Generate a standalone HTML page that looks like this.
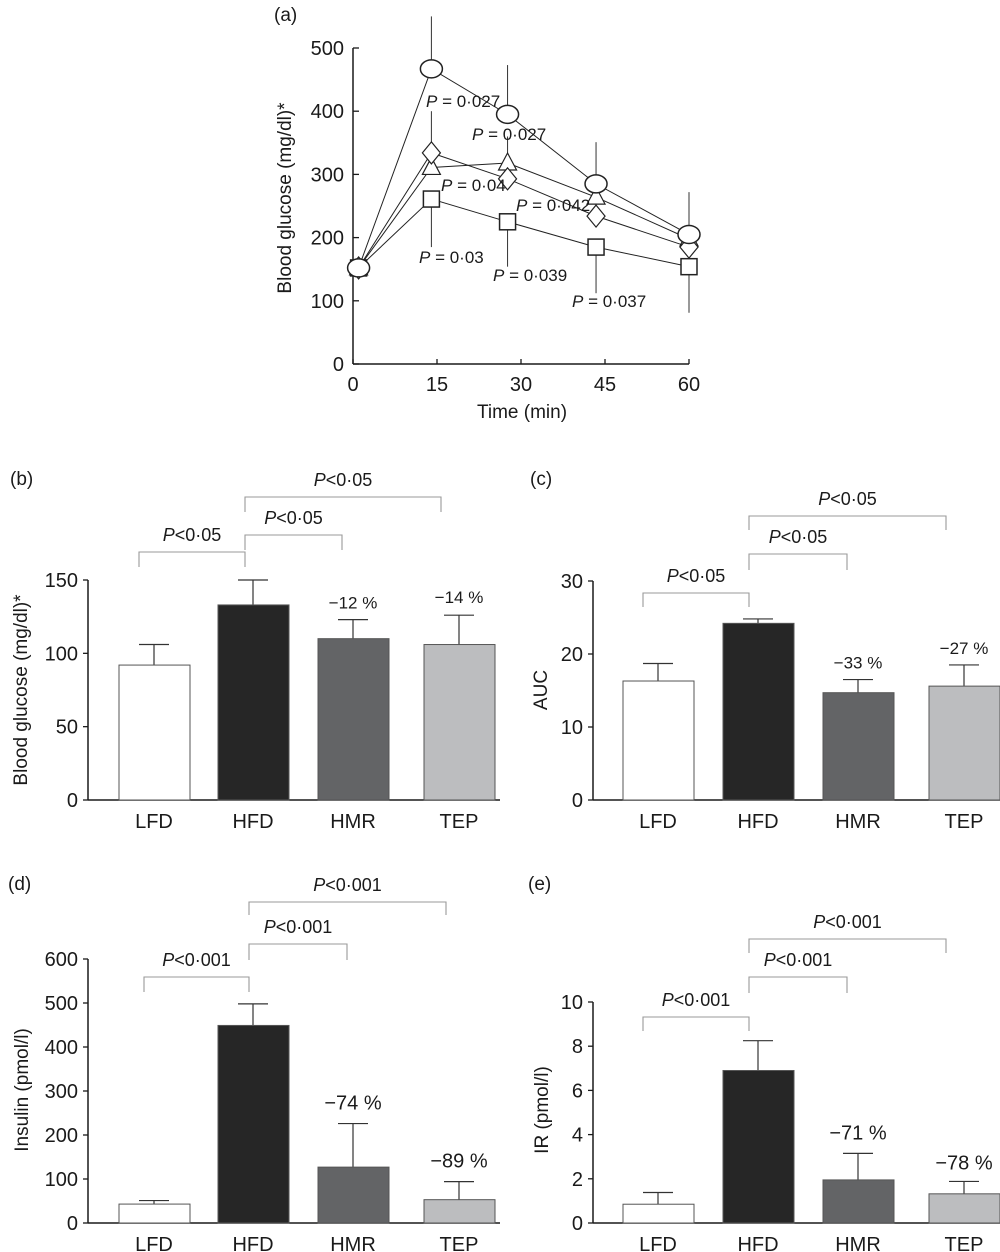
<!DOCTYPE html>
<html><head><meta charset="utf-8">
<style>
html,body{margin:0;padding:0;background:#fff;}
svg{display:block;font-family:"Liberation Sans",sans-serif;}
text{fill:#1a1a1a;}
</style></head>
<body>
<svg id="fig" width="1000" height="1252" viewBox="0 0 1000 1252" xmlns="http://www.w3.org/2000/svg"></svg>
<script>
// ---- Panel (a) data ----
const timeCats = [1, 14, 27.6, 43.4, 60];
const circleVals = [152, 467, 395, 285, 205];
const circleErrHi = [152, 550, 473, 351, 272];
const triVals = [152, 311, 318, 264, 198];
const diamondVals = [152, 334, 293, 234, 185];
const squareVals = [152, 261, 225, 185, 154];
const squareErrLo = [152, 185, 154, 112, 81];
const diamondErrHi = [152, 400, 360, 300, 230];
const aXTicks = [0, 15, 30, 45, 60];
const aYTicks = [0, 100, 200, 300, 400, 500];
const aPLabels = ["P = 0·027","P = 0·027","P = 0·04","P = 0·042","P = 0·03","P = 0·039","P = 0·037"];

// ---- Bar panels data ----
const groups = ["LFD","HFD","HMR","TEP"];
const bVals = [92, 133, 110, 106];
const bErr = [106, 150, 123, 126];
const bTicks = [0, 50, 100, 150];
const bPct = ["", "", "−12 %", "−14 %"];
const cVals = [16.3, 24.2, 14.7, 15.6];
const cErr = [18.7, 24.8, 16.5, 18.5];
const cTicks = [0, 10, 20, 30];
const cPct = ["", "", "−33 %", "−27 %"];
const dVals = [43, 449, 127, 53];
const dErr = [51, 498, 226, 94];
const dTicks = [0, 100, 200, 300, 400, 500, 600];
const dPct = ["", "", "−74 %", "−89 %"];
const eVals = [0.85, 6.9, 1.95, 1.32];
const eErr = [1.38, 8.25, 3.15, 1.88];
const eTicks = [0, 2, 4, 6, 8, 10];
const ePct = ["", "", "−71 %", "−78 %"];

const NS = "http://www.w3.org/2000/svg";
const svg = document.getElementById('fig');
function mk(tag, attrs, parent, txt){
  const e = document.createElementNS(NS, tag);
  for (const k in attrs) e.setAttribute(k, attrs[k]);
  if (txt !== undefined) e.textContent = txt;
  (parent || svg).appendChild(e);
  return e;
}
function line(x1,y1,x2,y2,stroke,w,p){return mk('line',{x1,y1,x2,y2,stroke:stroke||'#1a1a1a','stroke-width':w||1},p);}
function ptext(x,y,s,size,anchor,p){
  const t = mk('text',{x,y,'font-size':size,'text-anchor':anchor||'middle'},p);
  const a = document.createElementNS(NS,'tspan'); a.setAttribute('font-style','italic'); a.textContent = 'P'; t.appendChild(a);
  const b = document.createElementNS(NS,'tspan'); b.textContent = s.slice(1); t.appendChild(b);
  return t;
}

// ---------- Panel (a) ----------
(function(){
  const g = mk('g',{});
  
  
  const x0=353, x1=689, y0=364, y1=48;
  const X = t => x0 + (t/60)*(x1-x0);
  const Y = v => y0 - (v/500)*(y0-y1);
  mk('text',{x:274,y:21,'font-size':19},g,'(a)');
  const ax = mk('g',{},g);  
  line(x0,y0,x1,y0,'#1a1a1a',1.5,ax);
  aXTicks.forEach(t=>{ line(X(t),y0,X(t),y0-5,'#1a1a1a',1.3,ax); mk('text',{x:X(t),y:y0+27,'font-size':20,'text-anchor':'middle'},ax,String(t)); });
  const ay = mk('g',{},g);  
  line(x0,y0,x0,y1,'#1a1a1a',1.5,ay);
  aYTicks.forEach(v=>{ line(x0,Y(v),x0+6,Y(v),'#1a1a1a',1.3,ay); mk('text',{x:x0-9,y:Y(v)+7,'font-size':20,'text-anchor':'end'},ay,String(v)); });
  const xt = mk('text',{x:522,y:418,'font-size':19,'text-anchor':'middle'},g,'Time (min)');
  
  const yt = mk('text',{x:0,y:0,'font-size':19,'text-anchor':'middle',transform:'translate(291,198) rotate(-90)'},g,'Blood glucose (mg/dl)*');
  
  const eb = mk('g',{},g);  
  timeCats.forEach((t,i)=>{ if(i>0){
    line(X(t),Y(circleVals[i]),X(t),Y(circleErrHi[i]),'#333',1,eb);
    line(X(t),Y(squareVals[i]),X(t),Y(squareErrLo[i]),'#333',1,eb);
    line(X(t),Y(diamondVals[i]),X(t),Y(diamondErrHi[i]),'#333',1,eb);
  }});
  function series(vals,name,marker){
    const s = mk('g',{},g);  
    mk('polyline',{points:timeCats.map((t,i)=>X(t)+','+Y(vals[i])).join(' '),fill:'none',stroke:'#222','stroke-width':1},s);
    timeCats.forEach((t,i)=>marker(s,X(t),Y(vals[i])));
  }
  series(squareVals,'series-square',(s,x,y)=>mk('rect',{x:x-8,y:y-8,width:16,height:16,fill:'#fff',stroke:'#222','stroke-width':1.5},s));
  series(triVals,'series-triangle',(s,x,y)=>mk('polygon',{points:`${x},${y-10} ${x-9},${y+7} ${x+9},${y+7}`,fill:'#fff',stroke:'#222','stroke-width':1.2},s));
  series(diamondVals,'series-diamond',(s,x,y)=>mk('polygon',{points:`${x},${y-11} ${x+9},${y} ${x},${y+11} ${x-9},${y}`,fill:'#fff',stroke:'#222','stroke-width':1.2},s));
  series(circleVals,'series-circle',(s,x,y)=>mk('ellipse',{cx:x,cy:y,rx:11,ry:9,fill:'#fff',stroke:'#222','stroke-width':1.5},s));
  const pl=[[426,107],[472,140],[441,191],[516,211],[419,263],[493,281],[572,307]];
  aPLabels.forEach((s,i)=>{ const t=ptext(pl[i][0],pl[i][1],s,17,'start',g);  });
})();

// ---------- Bar panels ----------
const barColors = ['#ffffff','#262626','#636466','#bcbdbf'];
function barPanel(cfg){
  const g = mk('g',{});
  
  
  const {ox,y0,yTop,vmax,bx,vals,err,ticks,pct} = cfg;
  const Y = v => y0 - (v/vmax)*(y0-yTop);
  const lab = mk('text',{x:cfg.lx,y:cfg.ly,'font-size':19},g,cfg.label);
  
  const ay = mk('g',{},g);  
  line(ox,y0,ox,yTop,'#1a1a1a',1.5,ay);
  ticks.forEach(v=>{ line(ox-5,Y(v),ox,Y(v),'#1a1a1a',1.3,ay); mk('text',{x:ox-10,y:Y(v)+7,'font-size':20,'text-anchor':'end'},ay,String(v)); });
  const yt = mk('text',{x:0,y:0,'font-size':19,'text-anchor':'middle',transform:`translate(${cfg.tx},${cfg.ty}) rotate(-90)`},g,cfg.title);
  
  const ax = mk('g',{},g);  
  line(ox,y0,ox+412,y0,'#1a1a1a',1.5,ax);
  groups.forEach((c,i)=>{
    const cx = bx[i]+35;
    const t = mk('text',{x:cx,y:y0+28,'font-size':20,'text-anchor':'middle'},ax,c);
    
    line(cx,Y(vals[i]),cx,Y(err[i]),'#333',1.2,g);
    line(cx-15,Y(err[i]),cx+15,Y(err[i]),'#333',1.2,g);
    const r = mk('rect',{x:bx[i],y:Y(vals[i]),width:71,height:y0-Y(vals[i]),fill:barColors[i],stroke:'#555','stroke-width':1},g);
    
    
    if(pct[i]){ const p = mk('text',{x:cx,y:Y(err[i])-cfg.pctOff[i],'font-size':cfg.pctSize,'text-anchor':'middle'},g,pct[i]);  }
  });
  cfg.brackets.forEach(b=>{
    const bg = mk('g',{},g);  
    mk('polyline',{points:`${b[0]},${b[3]} ${b[0]},${b[2]} ${b[1]},${b[2]} ${b[1]},${b[3]}`,fill:'none',stroke:'#999','stroke-width':1.1},bg);
    ptext((b[0]+b[1])/2,b[2]-11,cfg.ptext,18,'middle',bg);
  });
}
const bxL=[119,218,318,424], bxR=[623,723,823,929];
barPanel({name:'panel-b-blood-glucose',label:'(b)',lx:10,ly:485,ox:88,y0:800,yTop:580,vmax:150,bx:bxL,vals:bVals,err:bErr,ticks:bTicks,pct:bPct,pctSize:17,
  title:'Blood glucose (mg/dl)*',tx:27,ty:690,pctOff:[0,0,11,12],ptext:'P<0·05',
  brackets:[[139,245,552,567],[245,342,535,550],[245,441,497,512]]});
barPanel({name:'panel-c-auc',label:'(c)',lx:530,ly:485,ox:593,y0:800,yTop:581,vmax:30,bx:bxR,vals:cVals,err:cErr,ticks:cTicks,pct:cPct,pctSize:17,
  title:'AUC',tx:547,ty:690,pctOff:[0,0,11,11],ptext:'P<0·05',
  brackets:[[643,749,593,607],[749,847,554,570],[749,946,516,530]]});
barPanel({name:'panel-d-insulin',label:'(d)',lx:8,ly:890,ox:88,y0:1223,yTop:959,vmax:600,bx:bxL,vals:dVals,err:dErr,ticks:dTicks,pct:dPct,pctSize:20,
  title:'Insulin (pmol/l)',tx:28,ty:1090,pctOff:[0,0,14,14],ptext:'P<0·001',
  brackets:[[144,249,977,992],[249,347,944,960],[249,446,902,915]]});
barPanel({name:'panel-e-ir',label:'(e)',lx:528,ly:890,ox:593,y0:1223,yTop:1002,vmax:10,bx:bxR,vals:eVals,err:eErr,ticks:eTicks,pct:ePct,pctSize:20,
  title:'IR (pmol/l)',tx:548,ty:1110,pctOff:[0,0,14,12],ptext:'P<0·001',
  brackets:[[643,749,1017,1031],[749,847,977,993],[749,946,939,953]]});
</script>
</body></html>
